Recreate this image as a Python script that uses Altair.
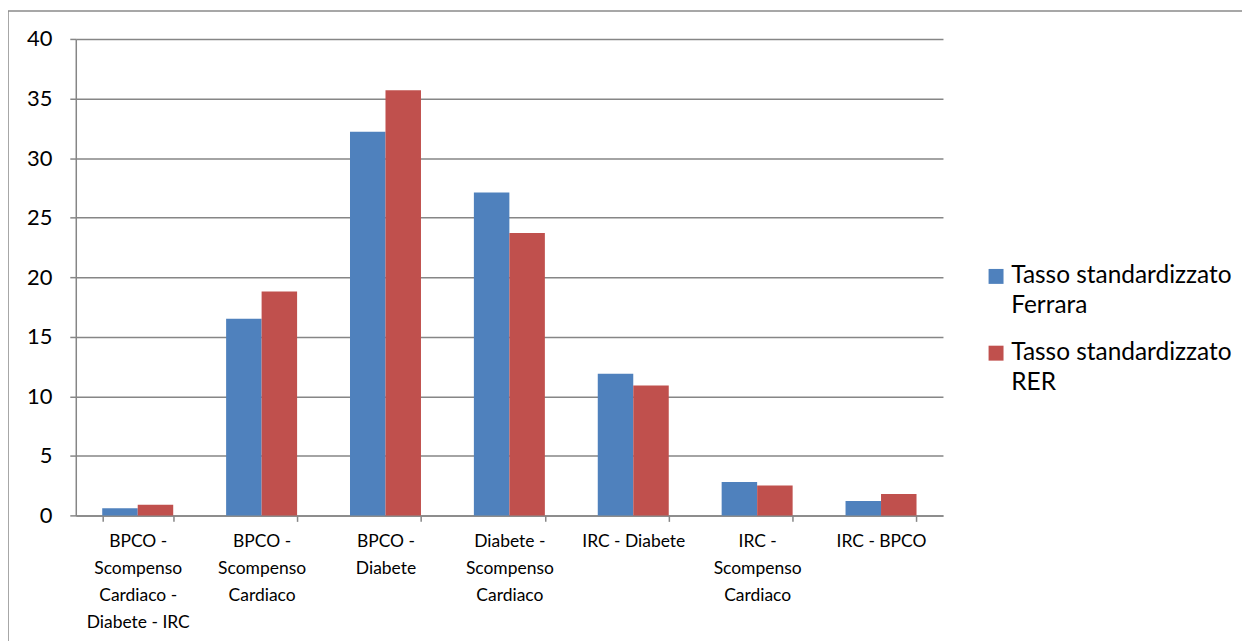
import altair as alt
import pandas as pd

categories = [
    "BPCO -\nScompenso\nCardiaco -\nDiabete - IRC",
    "BPCO -\nScompenso\nCardiaco",
    "BPCO -\nDiabete",
    "Diabete -\nScompenso\nCardiaco",
    "IRC - Diabete",
    "IRC -\nScompenso\nCardiaco",
    "IRC - BPCO",
]
series_names = ["Tasso standardizzato\nFerrara", "Tasso standardizzato\nRER"]
ferrara = [0.6, 16.5, 32.2, 27.1, 11.9, 2.8, 1.2]
rer = [0.9, 18.8, 35.7, 23.7, 10.9, 2.5, 1.8]
y_ticks = [0, 5, 10, 15, 20, 25, 30, 35, 40]
colors = ["#4F81BD", "#C0504D"]

rows = []
for c, f, r in zip(categories, ferrara, rer):
    rows.append({"cat": c, "serie": series_names[0], "val": f})
    rows.append({"cat": c, "serie": series_names[1], "val": r})
df = pd.DataFrame(rows)

FONT = "Lato"
GRAY = "#868686"

bars = alt.Chart(df).mark_bar().encode(
    x=alt.X(
        "cat:N",
        sort=categories,
        title=None,
        scale=alt.Scale(paddingInner=0.427, paddingOuter=0.2135),
        axis=alt.Axis(
            labelAngle=0,
            labelExpr="split(datum.label, '\\n')",
            labelFont=FONT,
            labelFontSize=17.5,
            labelFontWeight="normal",
            labelColor="#000000",
            labelLineHeight=27,
            labelPadding=11,
            labelLimit=200,
            tickBand="extent",
            tickSize=6,
            tickColor=GRAY,
            tickWidth=1.5,
            domainColor=GRAY,
            domainWidth=1.5,
            grid=False,
        ),
    ),
    xOffset=alt.XOffset("serie:N", sort=series_names),
    y=alt.Y(
        "val:Q",
        title=None,
        scale=alt.Scale(domain=[0, 40], nice=False),
        axis=alt.Axis(
            values=y_ticks,
            labelFont=FONT,
            labelFontSize=22,
            labelFontWeight="normal",
            labelColor="#000000",
            labelPadding=18,
            tickSize=6,
            tickColor=GRAY,
            tickWidth=1.5,
            domainColor=GRAY,
            domainWidth=1.5,
            grid=True,
            gridColor=GRAY,
            gridWidth=1.5,
        ),
    ),
    color=alt.Color(
        "serie:N",
        sort=series_names,
        scale=alt.Scale(domain=series_names, range=colors),
        legend=alt.Legend(
            title=None,
            orient="none",
            legendX=911,
            legendY=226,
            symbolType="square",
            symbolSize=225,
            symbolStrokeWidth=0,
            labelFont=FONT,
            labelFontSize=24.5,
            labelFontWeight="normal",
            labelColor="#000000",
            labelLimit=400,
            labelExpr="split(datum.label, '\\n')",
            rowPadding=22,
            labelOffset=3,
        ),
    ),
)

frame = alt.Chart(alt.Data(values=[{"a": 1}])).mark_rect(
    fillOpacity=0, stroke="#8a8a8a", strokeWidth=1.5
).encode(
    x=alt.value(-68),
    x2=alt.value(1173),
    y=alt.value(-28),
    y2=alt.value(640),
)

chart = (
    alt.layer(frame, bars)
    .properties(
        width=870,
        height=478,
        padding={"left": 68, "top": 30, "right": 300, "bottom": 130},
        autosize=alt.AutoSizeParams(type="none"),
    )
    .configure(background="#ffffff", style={"guide-label": {"lineHeight": 30}})
    .configure_view(strokeWidth=0)
)

chart.save("out.html", embed_options={"renderer": "svg", "actions": False})
